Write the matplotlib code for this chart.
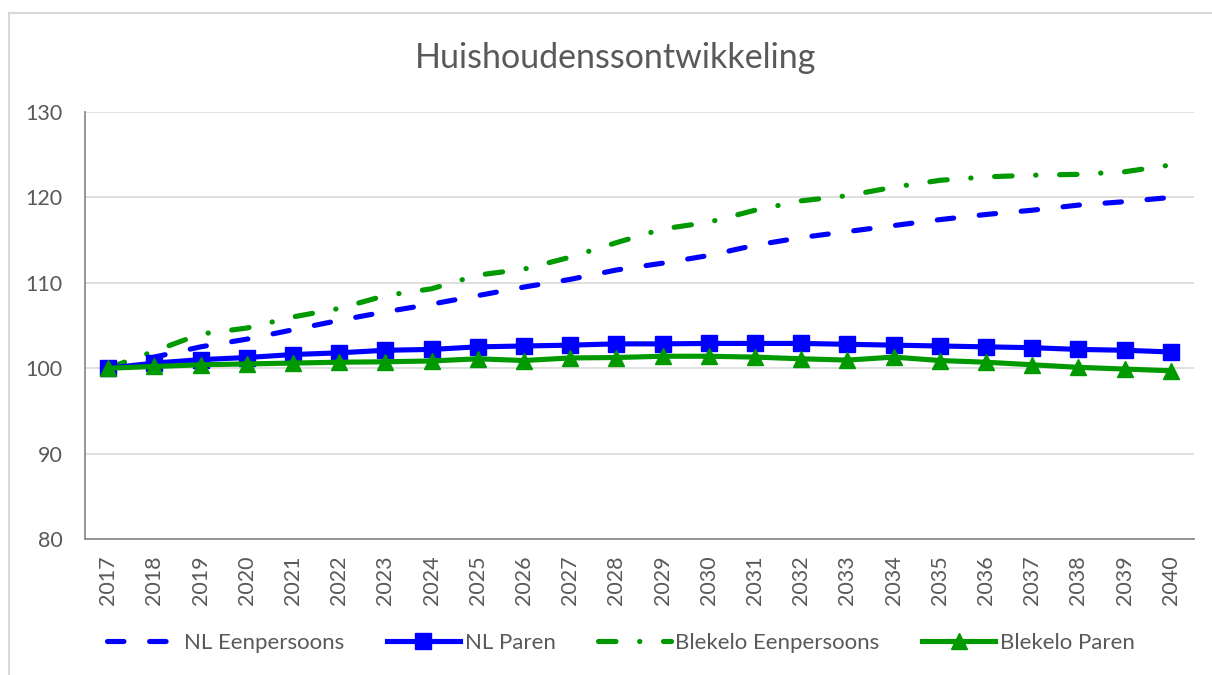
import matplotlib.pyplot as plt
from matplotlib.lines import Line2D

plt.rcParams['font.family'] = ['Lato', 'DejaVu Sans']

years = [str(y) for y in range(2017, 2041)]

nl_eenpersoons = [100.0, 101.3, 102.5, 103.4, 104.5, 105.6, 106.6, 107.5, 108.5, 109.5,
                  110.4, 111.5, 112.3, 113.2, 114.4, 115.3, 116.0, 116.7, 117.4, 118.0,
                  118.5, 119.1, 119.5, 120.0]
nl_paren = [100.0, 100.6, 101.0, 101.25, 101.6, 101.8, 102.1, 102.2, 102.5, 102.6,
            102.7, 102.85, 102.85, 102.9, 102.9, 102.9, 102.8, 102.7, 102.6, 102.5,
            102.4, 102.2, 102.1, 101.9]
blekelo_eenpersoons = [100.0, 102.0, 104.0, 104.7, 106.0, 107.0, 108.5, 109.3, 110.9, 111.6,
                       113.0, 114.7, 116.3, 117.1, 118.5, 119.6, 120.2, 121.2, 122.0, 122.4,
                       122.6, 122.7, 123.0, 123.8]
blekelo_paren = [100.0, 100.2, 100.4, 100.5, 100.6, 100.7, 100.75, 100.85, 101.1, 100.9,
                 101.2, 101.25, 101.4, 101.4, 101.3, 101.1, 100.95, 101.3, 100.9, 100.7,
                 100.4, 100.1, 99.9, 99.7]

blue = '#0000ff'
green = '#009900'
text_col = '#595959'

fig = plt.figure(figsize=(12.12, 6.75), dpi=100)
ax = fig.add_axes([85 / 1212, 1 - 539 / 675, (1194 - 85) / 1212, (539 - 112) / 675])

x = range(len(years))
lw = 3.7

l1, = ax.plot(x, nl_eenpersoons, color=blue, lw=lw, dashes=(3.2, 5.0),
              dash_capstyle='round', label='NL Eenpersoons', zorder=3)
l2, = ax.plot(x, nl_paren, color=blue, lw=lw, marker='s', markersize=11,
              label='NL Paren', zorder=4)
l3, = ax.plot(x, blekelo_eenpersoons, color=green, lw=lw, dashes=(3.4, 4.6, 0.05, 4.6),
              dash_capstyle='round', label='Blekelo Eenpersoons', zorder=3)
l4, = ax.plot(x, blekelo_paren, color=green, lw=lw, marker='^', markersize=11,
              label='Blekelo Paren', zorder=5)

ax.set_xlim(-0.5, len(years) - 0.5)
ax.set_ylim(80, 130)
ax.set_yticks(range(80, 131, 10))
ax.set_xticks(list(x))
ax.set_xticklabels(years, rotation=90)
ax.tick_params(axis='y', length=0, pad=16, labelsize=15.5, labelcolor=text_col)
ax.tick_params(axis='x', length=0, pad=12, labelsize=15.5, labelcolor=text_col)

ax.grid(axis='y', color='#d9d9d9', lw=1.2)
ax.set_axisbelow(True)
for s in ['top', 'right']:
    ax.spines[s].set_visible(False)
for s in ['left', 'bottom']:
    ax.spines[s].set_color('#8c8c8c')
    ax.spines[s].set_linewidth(1.3)

fig.text(0.508, 1 - 58 / 675, 'Huishoudenssontwikkeling', ha='center', va='center',
         fontsize=24.5, color=text_col)

ax.legend(handles=[l1, l2, l3, l4], loc='center', bbox_to_anchor=(0.512, 0.047),
          bbox_transform=fig.transFigure, ncol=4, frameon=False, fontsize=16,
          handlelength=3.3, handletextpad=0.2, columnspacing=1.9, labelcolor=text_col)

# chart frame (partially cropped in the original screenshot)
fx = 9 / 1212
fy = 1 - 13 / 675
fig.add_artist(Line2D([fx, fx], [0, fy], color='#d9d9d9', lw=1.5, transform=fig.transFigure))
fig.add_artist(Line2D([fx, 1], [fy, fy], color='#d9d9d9', lw=1.5, transform=fig.transFigure))

fig.savefig('out.png', dpi=100)
